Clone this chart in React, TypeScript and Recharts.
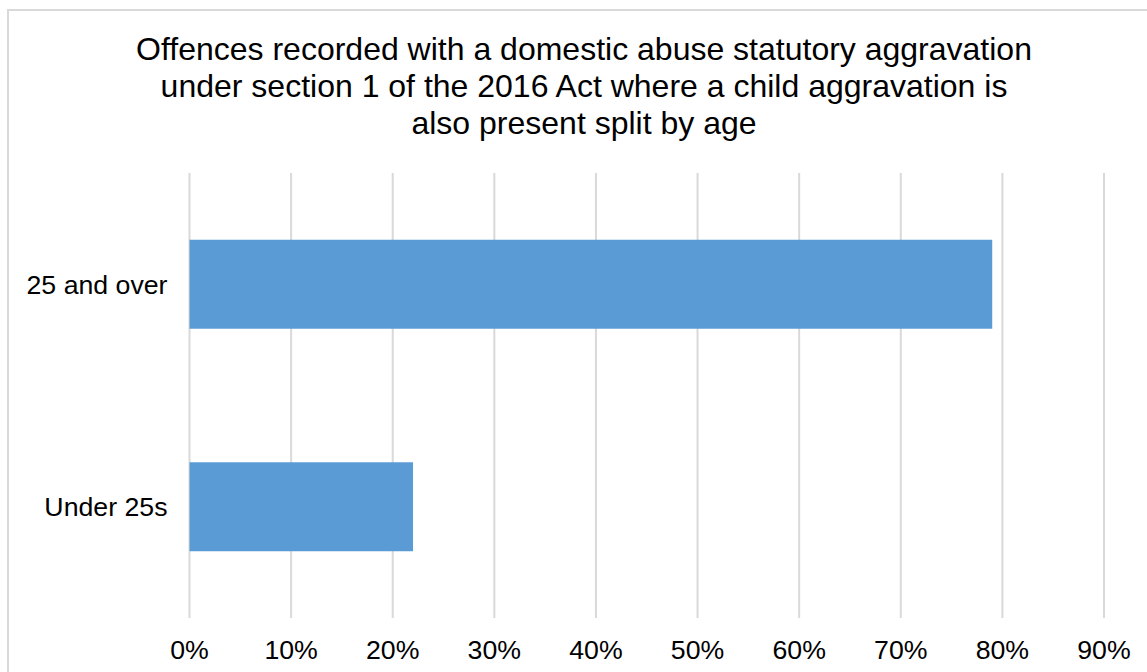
import React from "react";
import {
  BarChart,
  Bar,
  XAxis,
  YAxis,
  CartesianGrid,
} from "recharts";

const titleLines = [
  "Offences recorded with a domestic abuse statutory aggravation",
  "under section 1 of the 2016 Act where a child aggravation is",
  "also present split by age",
];

const ageGroups = ["25 and over", "Under 25s"];
const shares = [79, 22];
const xTicks = [0, 10, 20, 30, 40, 50, 60, 70, 80, 90];

const data = ageGroups.map((age, i) => ({ age, share: shares[i] }));

const font = "'Liberation Sans', Arial, sans-serif";

export default function App() {
  return (
    <div
      style={{
        position: "fixed",
        left: 0,
        top: 0,
        width: 1147,
        height: 672,
        overflow: "hidden",
        background: "#fff",
        fontFamily: font,
      }}
    >
      {/* chart frame runs past the right and bottom edges */}
      <div
        style={{
          position: "absolute",
          left: 7,
          top: 9,
          width: 1160,
          height: 700,
          border: "2px solid #d9d9d9",
        }}
      />
      <div
        style={{
          position: "absolute",
          left: 0,
          top: 31,
          width: 1168,
          textAlign: "center",
          fontSize: 32,
          lineHeight: "37px",
          color: "#000",
        }}
      >
        {titleLines.map((line) => (
          <div key={line}>{line}</div>
        ))}
      </div>
      <div style={{ position: "absolute", left: 0, top: 0 }}>
        <BarChart
          width={1147}
          height={672}
          data={data}
          layout="vertical"
          barCategoryGap="30%"
          margin={{ top: 173, right: 43, bottom: 24, left: 0 }}
        >
          <CartesianGrid
            horizontal={false}
            stroke="#d9d9d9"
            strokeWidth={2}
          />
          <XAxis
            type="number"
            domain={[0, 90]}
            ticks={xTicks}
            tickFormatter={(v: number) => `${v}%`}
            height={30}
            axisLine={false}
            tickLine={false}
            tickMargin={16}
            interval={0}
            tick={{ fontSize: 26.7, fill: "#000", fontFamily: font }}
          />
          <YAxis
            type="category"
            dataKey="age"
            width={189.5}
            axisLine={false}
            tickLine={false}
            tickMargin={16}
            tick={{ fontSize: 26.7, fill: "#000", fontFamily: font }}
          />
          <Bar dataKey="share" fill="#5b9bd5" isAnimationActive={false} />
        </BarChart>
      </div>
    </div>
  );
}
